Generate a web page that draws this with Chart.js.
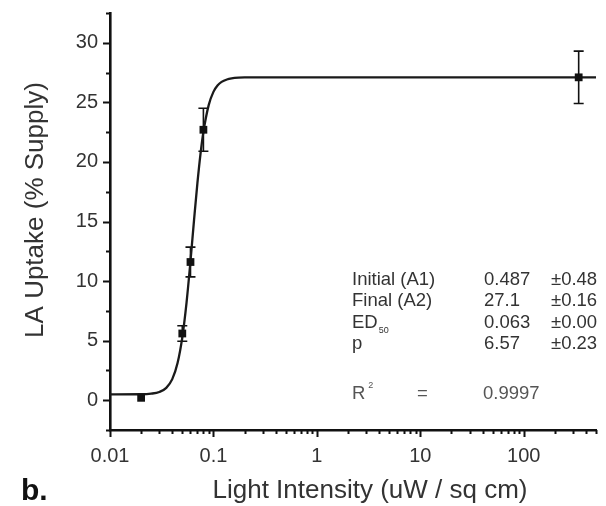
<!DOCTYPE html>
<html>
<head>
<meta charset="utf-8">
<script src="https://cdn.jsdelivr.net/npm/chart.js@4.4.1/dist/chart.umd.min.js"></script>
<style>
  html, body { margin: 0; padding: 0; background: #fff; }
</style>
</head>
<body>
<canvas id="uptake" width="606" height="506"></canvas>
<script>
/* ── Measured points (mean ± error) ─────────────────────────────────── */
const intensity = [0.02, 0.05, 0.06, 0.08, 340];
const uptake    = [0.2, 5.6, 11.6, 22.7, 27.1];
const uptakeErr = [0, 0.65, 1.25, 1.8, 2.2];

/* ── Fitted dose-response curve ─────────────────────────────────────── */
const fitX = [0.01, 0.02, 0.025, 0.03, 0.035, 0.04, 0.045, 0.05, 0.055, 0.06,
              0.065, 0.07, 0.075, 0.08, 0.09, 0.1, 0.11, 0.12, 0.135, 0.15,
              0.175, 0.2, 0.3, 1, 10, 100, 500];
const fitY = [0.49, 0.50, 0.55, 0.69, 1.04, 1.77, 3.12, 5.28, 8.22, 11.68,
              15.15, 18.22, 20.68, 22.52, 24.77, 25.88, 26.43, 26.72, 26.92, 27.01,
              27.07, 27.09, 27.1, 27.1, 27.1, 27.1, 27.1];

/* ── Axis ticks ─────────────────────────────────────────────────────── */
const xTickValues = [0.01, 0.1, 1, 10, 100];
const xTickLabels = ['0.01', '0.1', '1', '10', '100'];
const yMin = -2.5, yMax = 32.5, yStep = 2.5;

/* ── Fit parameters table ───────────────────────────────────────────── */
const fitNames  = ['Initial (A1)', 'Final (A2)', 'ED', 'p'];
const fitValues = ['0.487', '27.1', '0.063', '6.57'];
const fitErrors = ['±0.48', '±0.16', '±0.00', '±0.23'];
const rSquared  = '0.9997';

const FONT = "'Liberation Sans', Arial, sans-serif";
const INK  = '#111';
const TEXT = '#333';

/* ── Error bars drawn under the markers ─────────────────────────────── */
const errorBars = {
    id: 'errorBars',
    beforeDatasetsDraw(chart) {
        const { ctx, scales: { x, y } } = chart;
        ctx.save();
        ctx.strokeStyle = INK;
        ctx.lineWidth = 1.6;
        intensity.forEach((v, i) => {
            const e = uptakeErr[i];
            if (!e) return;
            const px = x.getPixelForValue(v);
            const hi = y.getPixelForValue(uptake[i] + e);
            const lo = y.getPixelForValue(uptake[i] - e);
            ctx.beginPath();
            ctx.moveTo(px, hi); ctx.lineTo(px, lo);
            ctx.moveTo(px - 5, hi); ctx.lineTo(px + 5, hi);
            ctx.moveTo(px - 5, lo); ctx.lineTo(px + 5, lo);
            ctx.stroke();
        });
        ctx.restore();
    },
};

/* ── Outward tick marks (major + minor) and text blocks ─────────────── */
const axisMarks = {
    id: 'axisMarks',
    afterDraw(chart) {
        const { ctx, chartArea: a, scales: { x, y } } = chart;
        ctx.save();
        ctx.strokeStyle = INK;
        ctx.lineWidth = 2;
        ctx.beginPath();
        for (let v = yMin; v <= yMax + 1e-9; v += yStep) {
            const py = Math.round(y.getPixelForValue(v)) + 0.5;
            const len = Math.abs(v % 5) < 1e-9 ? 7 : 4;
            ctx.moveTo(a.left - len, py); ctx.lineTo(a.left, py);
        }
        xTickValues.forEach(d => {
            for (let k = 1; k <= 9; k++) {
                const v = d * k;
                if (v > x.max * 1.0001) break;
                const px = Math.round(x.getPixelForValue(v)) + 0.5;
                const len = k === 1 ? 7 : 4;
                ctx.moveTo(px, a.bottom); ctx.lineTo(px, a.bottom + len);
            }
        });
        ctx.stroke();

        // axis titles and panel letter
        ctx.fillStyle = TEXT;
        ctx.textBaseline = 'middle';
        ctx.textAlign = 'center';
        ctx.font = `26px ${FONT}`;
        ctx.fillText('Light Intensity (uW / sq cm)', 370, 491);
        ctx.save();
        ctx.translate(36, 210);
        ctx.rotate(-Math.PI / 2);
        ctx.fillText('LA Uptake (% Supply)', 0, 0);
        ctx.restore();

        ctx.fillStyle = INK;
        ctx.textAlign = 'left';
        ctx.textBaseline = 'alphabetic';
        ctx.font = `bold 30px ${FONT}`;
        ctx.fillText('b.', 21, 500);

        // fit parameters
        ctx.fillStyle = TEXT;
        ctx.textBaseline = 'middle';
        ctx.font = `18.5px ${FONT}`;
        const rows = [280, 301, 323, 344];
        fitNames.forEach((name, i) => {
            ctx.fillText(name, 352, rows[i]);
            ctx.fillText(fitValues[i], 484, rows[i]);
            ctx.fillText(fitErrors[i], 551, rows[i]);
        });
        const edW = ctx.measureText('ED').width;
        ctx.font = `9px ${FONT}`;
        ctx.fillText('50', 352 + edW + 1, rows[2] + 8);

        ctx.fillStyle = '#555';
        ctx.font = `18.5px ${FONT}`;
        ctx.fillText('R', 352, 394);
        ctx.fillText('=', 417, 394);
        ctx.fillText(rSquared, 483, 394);
        const rW = ctx.measureText('R').width;
        ctx.font = `9px ${FONT}`;
        ctx.fillText('2', 352 + rW + 3, 386);
        ctx.restore();
    },
};

new Chart(document.getElementById('uptake'), {
    type: 'scatter',
    data: {
        datasets: [
            {
                label: 'LA uptake',
                data: intensity.map((v, i) => ({ x: v, y: uptake[i] })),
                pointStyle: 'rect',
                pointRadius: 5.5,
                backgroundColor: INK,
                borderColor: INK,
                borderWidth: 0,
            },
            {
                label: 'Fit',
                data: fitX.map((v, i) => ({ x: v, y: fitY[i] })),
                showLine: true,
                cubicInterpolationMode: 'monotone',
                pointRadius: 0,
                borderColor: '#1a1a1a',
                borderWidth: 2.3,
                fill: false,
            },
        ],
    },
    options: {
        responsive: false,
        animation: false,
        devicePixelRatio: 1,
        layout: { padding: { left: 0, top: 13, right: 10, bottom: 0 } },
        plugins: { legend: { display: false }, tooltip: { enabled: false } },
        scales: {
            x: {
                type: 'logarithmic',
                min: 0.01,
                max: 500,
                afterBuildTicks(scale) {
                    scale.ticks = xTickValues.map(value => ({ value }));
                },
                afterFit(scale) {
                    scale.height = 76;
                    scale.paddingLeft = 0;
                    scale.paddingRight = 0;
                },
                grid: { display: false, drawTicks: false },
                border: { display: true, color: INK, width: 2.6 },
                ticks: {
                    autoSkip: false,
                    maxRotation: 0,
                    padding: 14,
                    color: TEXT,
                    font: { family: FONT, size: 20 },
                    callback: (v, i) => xTickLabels[i],
                },
            },
            y: {
                min: yMin,
                max: yMax,
                afterFit(scale) {
                    scale.width = 110;
                    scale.paddingTop = 0;
                    scale.paddingBottom = 0;
                },
                grid: { display: false, drawTicks: false },
                border: { display: true, color: INK, width: 2.6 },
                ticks: {
                    stepSize: yStep,
                    padding: 12,
                    color: TEXT,
                    font: { family: FONT, size: 20 },
                    callback: v => (Math.abs(v % 5) < 1e-9 ? v : ''),
                },
            },
        },
    },
    plugins: [errorBars, axisMarks],
});
</script>
</body>
</html>
